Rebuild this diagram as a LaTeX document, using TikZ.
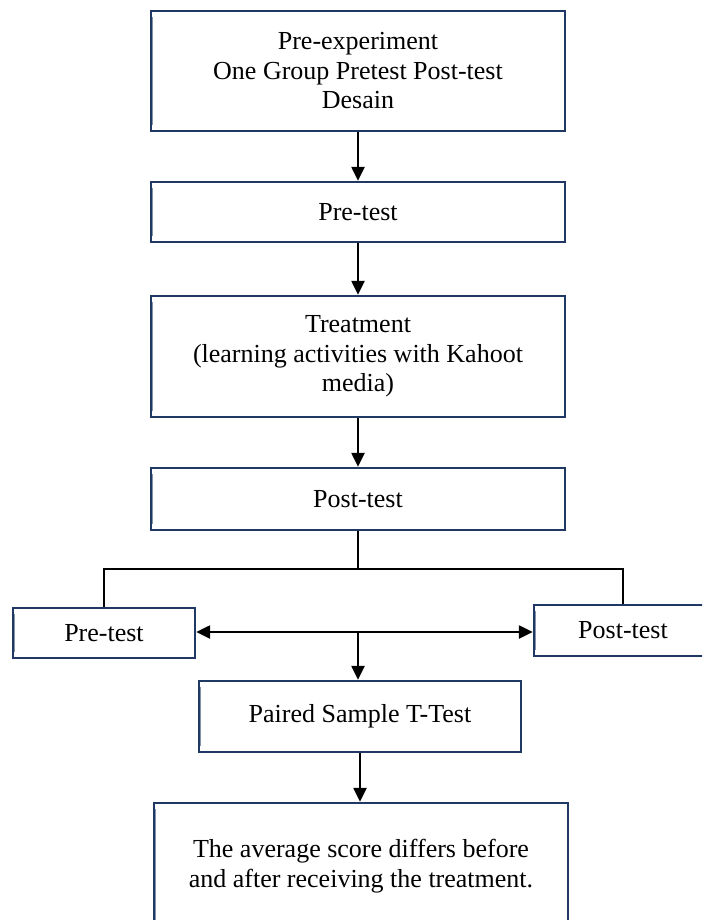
\documentclass[tikz,border=0pt]{standalone}
\usepackage{fontspec}
\setmainfont{Liberation Serif}
\usetikzlibrary{arrows.meta}
\definecolor{navy}{HTML}{1F3864}
\begin{document}
\begin{tikzpicture}[x=1pt,y=-1pt,
  box/.style={draw=navy,line width=2.4pt,fill=white,rectangle,inner sep=0pt,
    align=center,font=\fontsize{26}{29.5}\selectfont},
  edge/.style={draw=navy!55,line width=1.3pt},
  conn/.style={line width=2.4pt,black},
  arr/.style={conn,-{Triangle[length=14pt,width=13pt]}},
  darr/.style={conn,{Triangle[length=14pt,width=13pt]}-{Triangle[length=14pt,width=13pt]}}]
\useasboundingbox (0,0) rectangle (702,920);
\clip (0,0) rectangle (702,920);
\node[box,minimum width=414pt,minimum height=120pt] (b1) at (358,71)
  {Pre-experiment\\One Group Pretest Post-test\\Desain};
\node[box,minimum width=414pt,minimum height=60pt] (b2) at (358,212) {Pre-test};
\node[box,minimum width=414pt,minimum height=121pt] (b3) at (358,356.5)
  {Treatment\\(learning activities with Kahoot\\media)};
\node[box,minimum width=414pt,minimum height=62pt] (b4) at (358,499) {Post-test};
\node[box,minimum width=182pt,minimum height=50pt] (lb) at (104,633) {Pre-test};
\node[box,minimum width=178pt,minimum height=51pt] (rb) at (623,630.5) {Post-test};
\node[box,minimum width=322pt,minimum height=71pt] (ps) at (360,716.5) {Paired Sample T-Test};
\node[box,minimum width=414pt,minimum height=126pt] (fin) at (361,866)
  {The average score differs before\\and after receiving the treatment.};
\foreach \n in {b1,b2,b3,b4,lb,rb,ps,fin}
  \draw[edge] ([shift={(2.8,7)}]\n.north west) -- ([shift={(2.8,-7)}]\n.south west);
\coordinate (split) at (358,569);
\coordinate (mid) at (358,632);
\draw[arr] (b1.south) -- (b2.north);
\draw[arr] (b2.south) -- (b3.north);
\draw[arr] (b3.south) -- (b4.north);
\draw[conn] (b4.south) -- (split);
\draw[conn] (lb.north) |- (split) -| (rb.north);
\draw[darr] (mid -| lb.east) -- (mid -| rb.west);
\draw[arr] (mid) -- (mid |- ps.north);
\draw[arr] (ps.south) -- (ps.south |- fin.north);
\end{tikzpicture}
\end{document}
